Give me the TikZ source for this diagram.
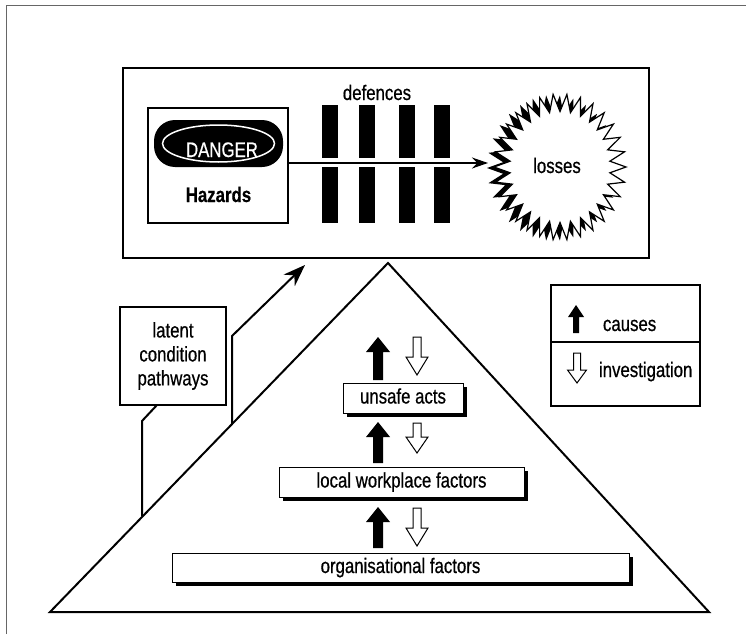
\documentclass[tikz,border=0pt]{standalone}
\usepackage{fontspec}
\setmainfont{Liberation Sans}[FakeStretch=0.8, FakeBold=0.6]
\usetikzlibrary{arrows.meta,shadows}
\newcommand{\blockarrow}[7]{\path[#1] ({#2-#6},#3) -- ({#2-#6},#4) -- ({#2-#7},#4) -- (#2,#5) -- ({#2+#7},#4) -- ({#2+#6},#4) -- ({#2+#6},#3) -- cycle;}
\begin{document}
\begin{tikzpicture}[x=1pt,y=-1pt,
  every node/.style={font=\fontsize{21pt}{24pt}\selectfont, inner sep=0pt, outer sep=0pt},
  thickbox/.style={draw, line width=2pt},
  shadowbox/.style={draw, line width=1pt, fill=white, text height=15pt, text depth=4pt,
    drop shadow={shadow xshift=4pt, shadow yshift=-4pt, fill=black, opacity=1}},
  pathline/.style={line width=2pt, line join=miter},
  blackarr/.style={fill=black},
  whitearr/.style={draw, fill=white, line width=1pt, line join=miter},
]
\useasboundingbox (0,0) rectangle (746,634);
% outer frame
\draw[black!60, line width=1pt] (6,634) -- (6,6) -- (746,6);

% main box
\node[thickbox, minimum width=526pt, minimum height=190pt] (main) at (386,163) {};

% hazards
\node[thickbox, minimum width=140pt, minimum height=115pt] (haz) at (218,165.5) {};
\node[fill=black, rounded corners=21pt, minimum width=129pt, minimum height=47pt] (danger) at (218.5,143.5) {};
\draw[white, line width=1.5pt] (danger.center) ellipse [x radius=56pt, y radius=18.5pt];
\node[white, anchor=base] (dangertxt) at (222,157) {DANGER};
\node[anchor=base, font=\fontsize{21pt}{24pt}\selectfont\bfseries] (hazt) at (218.5,202) {Hazards};

% defences
\foreach \cx in {330,367,406.5,441.5} {
  \fill (\cx-8,105) rectangle (\cx+8,158);
  \fill (\cx-8,167) rectangle (\cx+8,223);
}
\node[anchor=base] (deftxt) at (377,100) {defences};

% losses starburst
\fill[black, shift={(-7,1)}] plot[domain=0:59, samples=60, variable=\k]
  ({560+66*(1-0.24*mod(round(\k),2))*cos(6*\k)}, {167+73*(1-0.24*mod(round(\k),2))*sin(6*\k)}) -- cycle;
\filldraw[fill=white, line width=1.2pt, line join=miter] plot[domain=0:59, samples=60, variable=\k]
  ({560+66*(1-0.24*mod(round(\k),2))*cos(6*\k)}, {167+73*(1-0.24*mod(round(\k),2))*sin(6*\k)}) -- cycle;
\node[circle, minimum size=132pt] (loss) at (560,167) {};
\node[anchor=base] (losstxt) at (557,173) {losses};

% arrow hazards -> losses
\coordinate (arrowline) at (0,163);
\draw[line width=1.3pt, -{Stealth[length=16pt,width=11pt]}, shorten >=6pt]
  (haz.east |- arrowline) -- (loss.west |- arrowline);

% pyramid
\coordinate (apex) at (388,263);
\coordinate (bl) at (50,612);
\coordinate (br) at (709,612);
\draw[line width=2pt, line join=miter] (apex) -- (bl) -- (br) -- cycle;

% latent condition pathways
\node[thickbox, minimum width=106pt, minimum height=98pt, align=center] (latent) at (173,356)
  {latent\\condition\\pathways};
\coordinate (pa1) at (232,424);
\coordinate (pa2) at (232,336);
\coordinate (pa3) at (305,265);
\draw[pathline, -{Stealth[length=22pt,width=16pt]}] (pa1) -- (pa2) -- (pa3);
\coordinate (pb1) at (142,421);
\coordinate (pb2) at (142,516);
\draw[pathline] ([xshift=-16pt]latent.south) -- (pb1) -- (pb2);

% levels
\node[shadowbox, minimum width=120pt, minimum height=30pt] (unsafe) at (403,398) {unsafe acts};
\node[shadowbox, minimum width=245pt, minimum height=30pt] (local) at (401.5,482) {local workplace factors};
\node[shadowbox, minimum width=457pt, minimum height=29pt] (org) at (400.5,567.5) {organisational factors};

% block arrows
\blockarrow{blackarr}{378}{380}{352}{337}{5}{12}
\blockarrow{whitearr}{417}{337}{357}{375}{4}{11}
\blockarrow{blackarr}{378}{463}{437}{422}{5}{12}
\blockarrow{whitearr}{417}{423}{437}{453}{4}{11}
\blockarrow{blackarr}{378}{548}{522}{507}{5}{12}
\blockarrow{whitearr}{417}{508}{528}{546}{4}{11}

% legend
\node[thickbox, minimum width=149pt, minimum height=121pt] (legend) at (625.5,345.5) {};
\coordinate (divy) at (0,342);
\draw[line width=1.5pt] (legend.west |- divy) -- (legend.east |- divy);
\blockarrow{blackarr}{576}{333}{317}{305}{3}{8}
\blockarrow{whitearr}{577}{353}{370}{383}{3.5}{9.5}
\node[anchor=base west] (causes) at (603,331) {causes};
\node[anchor=base west] (invest) at (599,377) {investigation};
\end{tikzpicture}
\end{document}
